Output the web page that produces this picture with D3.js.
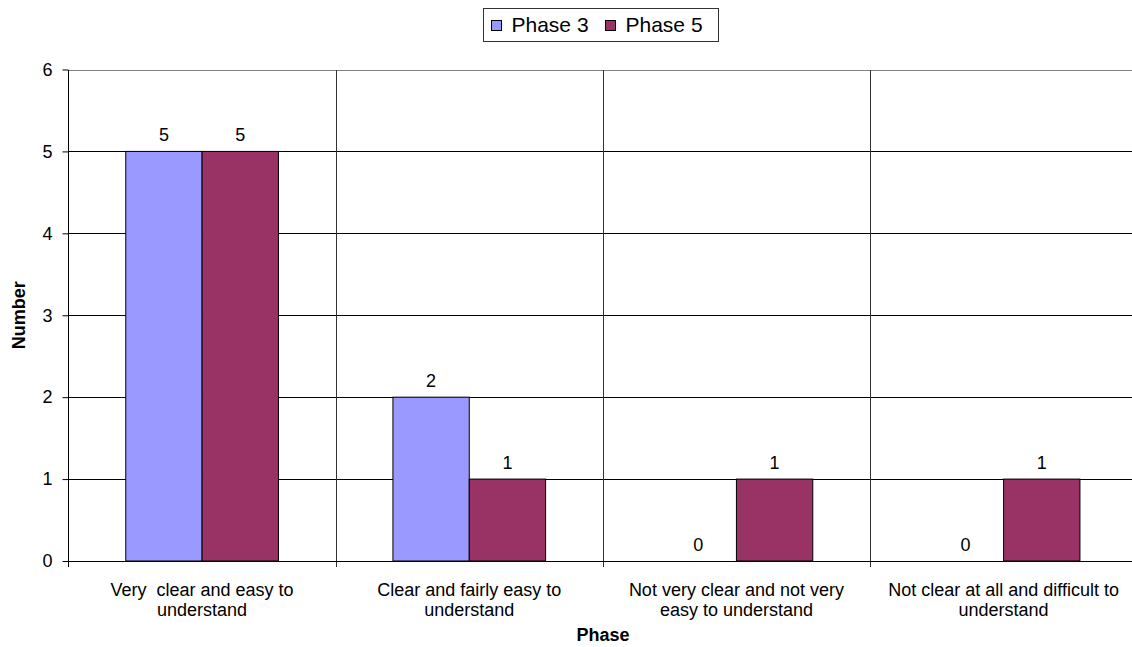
<!DOCTYPE html>
<html>
    <head>
        <meta charset="utf-8">
        <script src="https://cdnjs.cloudflare.com/ajax/libs/d3/7.8.5/d3.min.js"></script>
        <style>
            body { margin: 0; background: #fff; }
            text { font-family: "Liberation Sans", Arial, sans-serif; fill: #000; white-space: pre; }
        </style>
    </head>
    <body>
        <script>
            // data
            var categories = ["Very clear", "Clear fairly", "Not very clear", "Not clear at all"];
            var categoryLines = [
                ["Very  clear and easy to", "understand"],
                ["Clear and fairly easy to", "understand"],
                ["Not very clear and not very", "easy to understand"],
                ["Not clear at all and difficult to", "understand"]
            ];
            var seriesNames = ["Phase 3", "Phase 5"];
            var phase3 = [5, 2, 0, 0];
            var phase5 = [5, 1, 1, 1];
            var yTicks = [0, 1, 2, 3, 4, 5, 6];
            var colors = ["#9999ff", "#993366"];

            var w = 1132, h = 647;
            var plotLeft = 68.5, plotTop = 69.5, plotBottom = 561, plotRight = 1137.2;

            var svg = d3.select("body").append("svg")
                .attr("width", w)
                .attr("height", h);

            var x0 = d3.scaleBand().domain(categories).range([plotLeft, plotRight]);
            var x1 = d3.scaleBand().domain(seriesNames)
                .range([0, x0.bandwidth()])
                .paddingInner(0).paddingOuter(0.75);
            var y = d3.scaleLinear().domain([0, 6]).range([plotBottom, plotTop]);

            // horizontal gridlines
            svg.append("g").selectAll("line")
                .data(yTicks)
                .enter().append("line")
                    .attr("x1", plotLeft).attr("x2", w)
                    .attr("y1", function(d) { return Math.round(y(d)) + 0.5; })
                    .attr("y2", function(d) { return Math.round(y(d)) + 0.5; })
                    .attr("stroke", function(d) { return d == 6 ? "#808080" : "#000"; })
                    .attr("shape-rendering", "crispEdges");

            // vertical gridlines at category boundaries (with tick below axis)
            svg.append("g").selectAll("line")
                .data(categories.slice(1))
                .enter().append("line")
                    .attr("x1", function(d) { return Math.round(x0(d)) + 0.5; })
                    .attr("x2", function(d) { return Math.round(x0(d)) + 0.5; })
                    .attr("y1", plotTop).attr("y2", plotBottom + 6)
                    .attr("stroke", "#333")
                    .attr("shape-rendering", "crispEdges");

            // bars
            var rows = categories.map(function(c, i) {
                return { cat: c, vals: [phase3[i], phase5[i]] };
            });
            var groups = svg.append("g").selectAll("g")
                .data(rows)
                .enter().append("g")
                    .attr("transform", function(d) { return "translate(" + x0(d.cat) + ",0)"; });

            groups.selectAll("rect")
                .data(function(d) { return d.vals.map(function(v, j) { return { s: seriesNames[j], v: v, j: j }; }); })
                .enter().filter(function(d) { return d.v > 0; })
                .append("rect")
                    .attr("x", function(d) { return x1(d.s); })
                    .attr("y", function(d) { return y(d.v); })
                    .attr("width", x1.bandwidth())
                    .attr("height", function(d) { return y(0) - y(d.v); })
                    .attr("fill", function(d) { return colors[d.j]; })
                    .attr("stroke", "#000")
                    .attr("stroke-width", 1);

            groups.selectAll("text")
                .data(function(d) { return d.vals.map(function(v, j) { return { s: seriesNames[j], v: v }; }); })
                .enter().append("text")
                    .attr("x", function(d) { return x1(d.s) + x1.bandwidth() / 2; })
                    .attr("y", function(d) { return y(d.v) - 10.5; })
                    .attr("text-anchor", "middle")
                    .attr("font-size", 18)
                    .text(function(d) { return d.v; });

            // y axis
            var yAxis = svg.append("g")
                .attr("transform", "translate(" + plotLeft + ",0)")
                .call(d3.axisLeft(y).tickValues(yTicks).tickSize(6).tickPadding(10).tickFormat(d3.format("d")));
            yAxis.select(".domain").remove();
            yAxis.selectAll(".tick line").attr("stroke", "#000");
            yAxis.selectAll(".tick text")
                .attr("font-size", 18)
                .attr("font-family", "Liberation Sans, Arial, sans-serif")
                .attr("fill", "#000");
            svg.append("line")
                .attr("x1", plotLeft).attr("x2", plotLeft)
                .attr("y1", plotTop).attr("y2", plotBottom + 6)
                .attr("stroke", "#000")
                .attr("shape-rendering", "crispEdges");
            svg.append("line")
                .attr("x1", plotLeft).attr("x2", w)
                .attr("y1", Math.round(plotBottom) + 0.5).attr("y2", Math.round(plotBottom) + 0.5)
                .attr("stroke", "#000")
                .attr("shape-rendering", "crispEdges");

            // category labels
            var catLabels = svg.append("g").selectAll("text")
                .data(categories)
                .enter().append("text")
                    .attr("text-anchor", "middle")
                    .attr("font-size", 18)
                    .attr("x", function(d) { return x0(d) + x0.bandwidth() / 2; })
                    .attr("y", 596);
            catLabels.each(function(d, i) {
                var t = d3.select(this);
                categoryLines[i].forEach(function(line, k) {
                    t.append("tspan")
                        .attr("x", x0(d) + x0.bandwidth() / 2)
                        .attr("dy", k == 0 ? 0 : 20)
                        .text(line);
                });
            });

            // axis titles
            svg.append("text")
                .attr("transform", "translate(25," + ((plotTop + plotBottom) / 2) + ") rotate(-90)")
                .attr("text-anchor", "middle")
                .attr("font-size", 18)
                .attr("font-weight", "bold")
                .text("Number");
            svg.append("text")
                .attr("x", 603).attr("y", 641)
                .attr("text-anchor", "middle")
                .attr("font-size", 18)
                .attr("font-weight", "bold")
                .text("Phase");

            // legend
            var legend = svg.append("g");
            legend.append("rect")
                .attr("x", 483.5).attr("y", 8.5)
                .attr("width", 235).attr("height", 33)
                .attr("fill", "#fff")
                .attr("stroke", "#333");
            var legendX = [491.5, 605.5];
            seriesNames.forEach(function(s, i) {
                legend.append("rect")
                    .attr("x", legendX[i]).attr("y", 20.5)
                    .attr("width", 10).attr("height", 10)
                    .attr("fill", colors[i])
                    .attr("stroke", "#000");
                legend.append("text")
                    .attr("x", legendX[i] + 20).attr("y", 32)
                    .attr("font-size", 21)
                    .text(s);
            });
        </script>
    </body>
</html>
